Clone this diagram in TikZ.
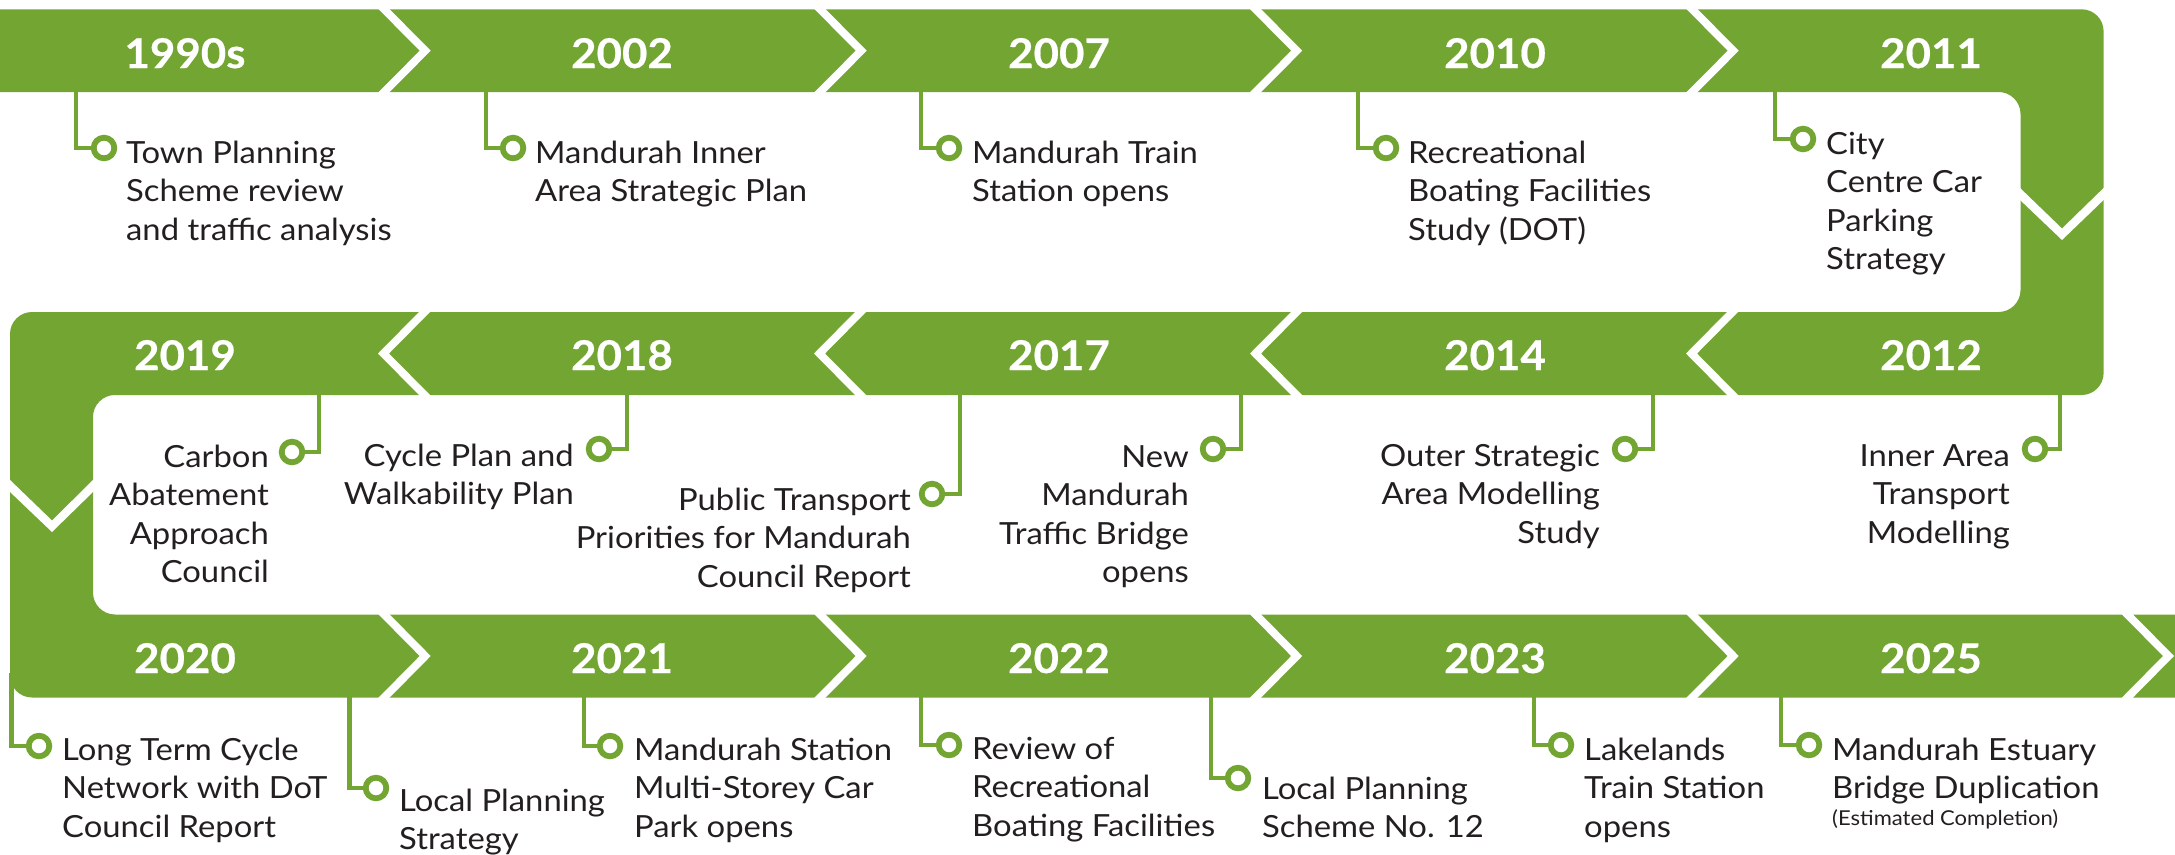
\documentclass[tikz,border=0pt]{standalone}
\usepackage{fontspec}
\setmainfont{Lato}[FakeStretch=1.075]
\newfontfamily\yearfont{Lato}[FakeStretch=1.07,BoldFeatures={FakeBold=0.5}]
\definecolor{tlgreen}{HTML}{73A533}
\definecolor{tlink}{HTML}{231F20}
\newcommand\tbl[1]{\begin{tabular}[t]{@{}l@{}}#1\end{tabular}}
\newcommand\tbr[1]{\begin{tabular}[t]{@{}r@{}}#1\end{tabular}}
\tikzset{
  conn/.style={draw=tlgreen,line width=4.8pt,line join=miter},
  ring/.style={circle,draw=tlgreen,fill=white,line width=5.8pt,minimum size=20.6pt,inner sep=0pt,outer sep=0pt},
  year/.style={text=white,inner sep=0pt,anchor=base,font=\fontsize{41}{41}\selectfont\yearfont\bfseries},
  descl/.style={text=tlink,inner sep=0pt,anchor=base west,font=\fontsize{30.5}{38.5}\selectfont},
  descr/.style={text=tlink,inner sep=0pt,anchor=base east,font=\fontsize{30.5}{38.5}\selectfont},
}
\begin{document}
\begin{tikzpicture}[x=1pt,y=-1pt]
\useasboundingbox (0,0) rectangle (2175,854);
\clip (0,0) rectangle (2175,854);
% S-shaped band
\fill[tlgreen,rounded corners=22pt] (-40,9.3) -- (2103.6,9.3) -- (2103.6,395) -- (93,395) -- (93,614.5) -- (2215,614.5) -- (2215,697.5) -- (10,697.5) -- (10,312) -- (2020.5,312) -- (2020.5,92) -- (-40,92) -- cycle;
% right-pointing chevrons
\foreach \t in {430.7,866.7,1302.2,1738.7}{
  \fill[white] (\t-53,8.3) -- (\t-42,8.3) -- (\t,50.7) -- (\t-42,93) -- (\t-53,93) -- (\t-11,50.7) -- cycle;
}
\foreach \t in {430.7,866.7,1302.2,1738.7,2174}{
  \fill[white] (\t-53,613.5) -- (\t-42,613.5) -- (\t,656) -- (\t-42,698.5) -- (\t-53,698.5) -- (\t-11,656) -- cycle;
}
% left-pointing chevrons
\foreach \t in {378,814,1250,1686}{
  \fill[white] (\t+53,311) -- (\t+42,311) -- (\t,353.5) -- (\t+42,396) -- (\t+53,396) -- (\t+11,353.5) -- cycle;
}
% downward chevrons
\fill[white] (2019,187) -- (2062,228.5) -- (2104.6,187) -- (2104.6,199) -- (2062,240) -- (2019,199) -- cycle;
\fill[white] (9,479) -- (52,520.5) -- (94,479) -- (94,491) -- (52,532) -- (9,491) -- cycle;
% years
\node[year] (y1) at (185,68) {1990s};
\node[year] (y2) at (622,68) {2002};
\node[year] (y3) at (1059,68) {2007};
\node[year] (y4) at (1495,68) {2010};
\node[year] (y5) at (1931,68) {2011};
\node[year] (y6) at (1931,370) {2012};
\node[year] (y7) at (1495,370) {2014};
\node[year] (y8) at (1059,370) {2017};
\node[year] (y9) at (622,370) {2018};
\node[year] (y10) at (185,370) {2019};
\node[year] (y11) at (185,673) {2020};
\node[year] (y12) at (622,673) {2021};
\node[year] (y13) at (1059,673) {2022};
\node[year] (y14) at (1495,673) {2023};
\node[year] (y15) at (1931,673) {2025};
% connector roots
\coordinate (a1) at (76,90);
\coordinate (a2) at (486,90);
\coordinate (a3) at (921,90);
\coordinate (a4) at (1358,90);
\coordinate (a5) at (1775,90);
\coordinate (a6) at (2060,393);
\coordinate (a7) at (1653,393);
\coordinate (a8) at (1241,393);
\coordinate (a9) at (960,393);
\coordinate (a10) at (627,393);
\coordinate (a11) at (319,393);
\coordinate (a12) at (11.7,673);
\coordinate (a13) at (349.5,695);
\coordinate (a14) at (584,695);
\coordinate (a15) at (921,695);
\coordinate (a16) at (1211,695);
\coordinate (a17) at (1534,695);
\coordinate (a18) at (1781,695);
% rings
\node[ring] (r1) at (104,148) {};
\node[ring] (r2) at (513,148) {};
\node[ring] (r3) at (949,148) {};
\node[ring] (r4) at (1386,148) {};
\node[ring] (r5) at (1803,139) {};
\node[ring] (r6) at (2035,449) {};
\node[ring] (r7) at (1625,449) {};
\node[ring] (r8) at (1213,449) {};
\node[ring] (r9) at (932,494) {};
\node[ring] (r10) at (599,449) {};
\node[ring] (r11) at (292,452) {};
\node[ring] (r12) at (39,746) {};
\node[ring] (r13) at (376,788) {};
\node[ring] (r14) at (610,746) {};
\node[ring] (r15) at (949,745) {};
\node[ring] (r16) at (1238,778) {};
\node[ring] (r17) at (1561,745) {};
\node[ring] (r18) at (1809,745) {};
% connectors
\foreach \i in {1,...,18}{
  \draw[conn] (a\i) |- (r\i);
}
% descriptions
\node[descl] (d1) at (126,163) {\tbl{Town Planning\\Scheme review\\and traffic analysis}};
\node[descl] (d2) at (535,163) {\tbl{Mandurah Inner\\Area Strategic Plan}};
\node[descl] (d3) at (972,163) {\tbl{Mandurah Train\\Station opens}};
\node[descl] (d4) at (1408,163) {\tbl{Recreational\\Boating Facilities\\Study (DOT)}};
\node[descl] (d5) at (1826,154) {\tbl{City\\Centre Car\\Parking\\Strategy}};
\node[descr] (d6) at (2010,466) {\tbr{Inner Area\\Transport\\Modelling}};
\node[descr] (d7) at (1600,466) {\tbr{Outer Strategic\\Area Modelling\\Study}};
\node[descr] (d8) at (1189,467) {\tbr{New\\Mandurah\\Traffic Bridge\\opens}};
\node[descr] (d9) at (911,510) {\tbr{Public Transport\\Priorities for Mandurah\\Council Report}};
\node[descr] (d10) at (574,466) {\tbr{Cycle Plan and\\Walkability Plan}};
\node[descr] (d11) at (269,467) {\tbr{Carbon\\Abatement\\Approach\\Council}};
\node[descl] (d12) at (62,760) {\tbl{Long Term Cycle\\Network with DoT\\Council Report}};
\node[descl] (d13) at (399,811) {\tbl{Local Planning\\Strategy}};
\node[descl] (d14) at (634,760) {\tbl{Mandurah Station\\Multi-Storey Car\\Park opens}};
\node[descl] (d15) at (972,759) {\tbl{Review of\\Recreational\\Boating Facilities}};
\node[descl] (d16) at (1262,799) {\tbl{Local Planning\\Scheme No. 12}};
\node[descl] (d17) at (1584,760) {\tbl{Lakelands\\Train Station\\opens}};
\node[descl] (d18) at (1832,760) {\tbl{Mandurah Estuary\\Bridge Duplication\\[-11.5pt]{\fontsize{20.5}{22}\selectfont (Estimated Completion)}}};
\end{tikzpicture}
\end{document}
